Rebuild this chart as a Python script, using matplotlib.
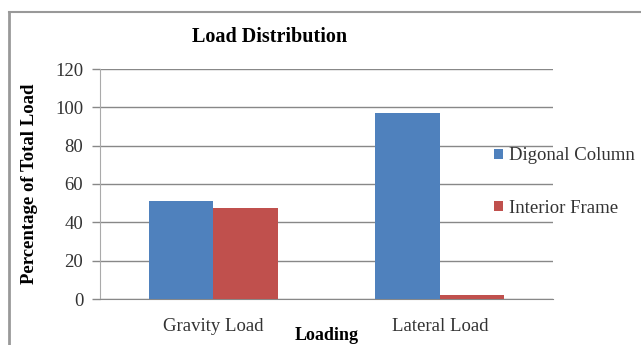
import numpy as np
import matplotlib.pyplot as plt
from matplotlib.lines import Line2D

categories = ["Gravity Load", "Lateral Load"]
series_names = ["Digonal Column", "Interior Frame"]
diagonal_column = [51, 97]
interior_frame = [47.5, 2]
y_ticks = [0, 20, 40, 60, 80, 100, 120]

plt.rcParams['font.family'] = ['Liberation Serif', 'DejaVu Serif']

fig = plt.figure(figsize=(6.41, 3.45), dpi=100)
ax = fig.add_axes([100 / 641, 1 - 299 / 345, 453 / 641, 230 / 345])

x = np.arange(len(categories))
w = 0.285
ax.bar(x - w / 2, diagonal_column, w, color="#4F81BD", label=series_names[0], zorder=3)
ax.bar(x + w / 2, interior_frame, w, color="#C0504D", label=series_names[1], zorder=3)

ax.set_xlim(-0.5, 1.5)
ax.set_ylim(0, 120)
ax.set_yticks(y_ticks)
ax.set_xticks(x)
ax.set_xticklabels(categories)
ax.tick_params(axis="y", length=6, width=1, color="#888888", pad=6,
               labelsize=13.5, labelcolor="#333333")
ax.tick_params(axis="x", length=0, pad=14, labelsize=13.5, labelcolor="#333333")
ax.grid(axis="y", color="#888888", linewidth=1, zorder=0)

for s in ["top", "right"]:
    ax.spines[s].set_visible(False)
ax.spines["left"].set_color("#aaaaaa")
ax.spines["bottom"].set_color("#888888")

fig.text(270 / 641, 1 - 37 / 345, "Load Distribution", fontsize=14.5,
         fontweight="bold", ha="center", va="center")
ax.set_ylabel("Percentage of Total Load", fontsize=13.5, fontweight="bold")
ax.yaxis.set_label_coords(-0.137, 0.5)
ax.set_xlabel("Loading", fontsize=13, fontweight="bold", va="center")
ax.xaxis.set_label_coords((327 - 100) / 453, (299 - 335) / 230)

fig.legend(loc="center left", bbox_to_anchor=(0.745, 0.472), frameon=False,
           fontsize=13.5, handlelength=0.45, handleheight=0.45, handletextpad=0.35,
           labelspacing=1.9, labelcolor="#333333")

# page frame around the chart
fig.add_artist(Line2D([9 / 641, 9 / 641], [0, 1 - 12 / 345], color="#999999", linewidth=2))
fig.add_artist(Line2D([9 / 641, 1], [1 - 12 / 345, 1 - 12 / 345], color="#999999", linewidth=1.5))

fig.savefig("out.png", dpi=100)
